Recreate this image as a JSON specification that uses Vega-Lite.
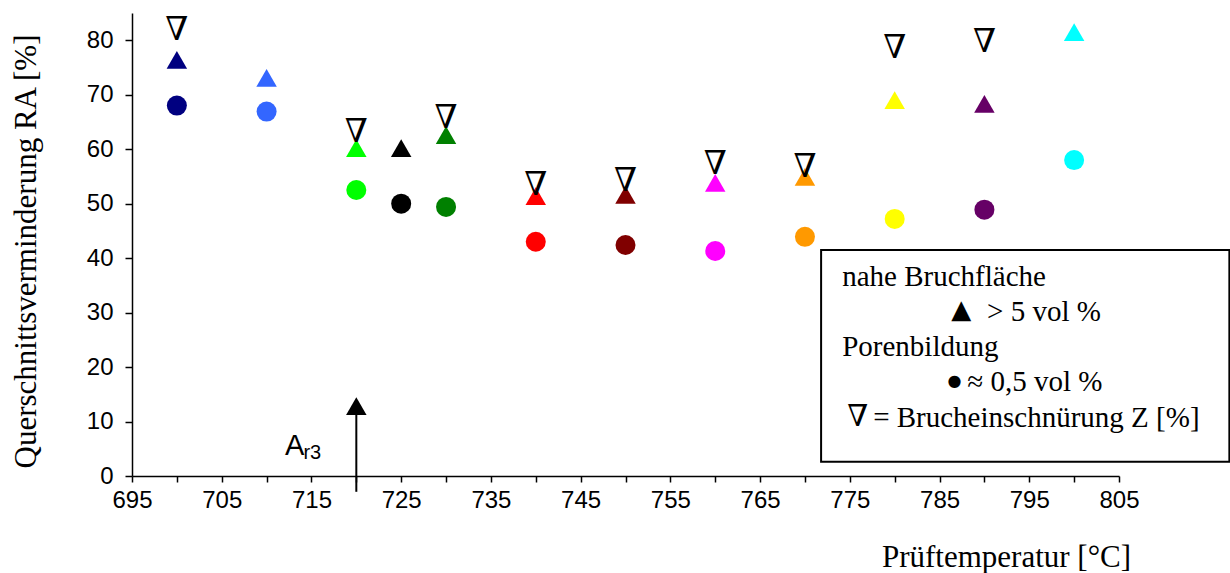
{
  "$schema": "https://vega.github.io/schema/vega-lite/v6.json",
  "width": 987,
  "height": 463,
  "autosize": {"type": "none"},
  "padding": {"left": 132, "top": 13, "right": 111, "bottom": 97},
  "background": "white",
  "config": {"view": {"stroke": null}},
  "datasets": {
    "pts": [
      {"T": 700, "probe": "700", "RA": 76.4, "Por": 68.0, "Z": 81.9},
      {"T": 710, "probe": "710", "RA": 73.1, "Por": 66.9, "Z": null},
      {"T": 720, "probe": "720", "RA": 60.2, "Por": 52.5, "Z": 63.2},
      {"T": 725, "probe": "725", "RA": 60.2, "Por": 50.0, "Z": null},
      {"T": 730, "probe": "730", "RA": 62.6, "Por": 49.4, "Z": 65.7},
      {"T": 740, "probe": "740", "RA": 51.4, "Por": 43.0, "Z": 53.4},
      {"T": 750, "probe": "750", "RA": 51.6, "Por": 42.4, "Z": 54.2},
      {"T": 760, "probe": "760", "RA": 53.8, "Por": 41.3, "Z": 57.3},
      {"T": 770, "probe": "770", "RA": 54.9, "Por": 43.9, "Z": 56.7},
      {"T": 780, "probe": "780", "RA": 69.0, "Por": 47.2, "Z": 78.6},
      {"T": 790, "probe": "790", "RA": 68.3, "Por": 48.9, "Z": 79.7},
      {"T": 800, "probe": "800", "RA": 81.5, "Por": 58.0, "Z": null}
    ],
    "arrow": [{"T": 720, "y1": -2.9, "y2": 12.85}],
    "box": [{"x1": 771.8, "x2": 817.3, "y1": 41.5, "y2": 2.6}],
    "legtext": [
      {"T": 774.15, "v": 36.5, "txt": "nahe Bruchfläche"},
      {"T": 790.3, "v": 30.1, "txt": "> 5 vol %"},
      {"T": 774.15, "v": 23.7, "txt": "Porenbildung"},
      {"T": 788.1, "v": 17.3, "txt": "≈ 0,5 vol %"},
      {"T": 777.6, "v": 10.65, "txt": "= Brucheinschnürung Z [%]"}
    ],
    "legsym": [
      {"T": 786.3, "v": 30.4, "txt": "▲"}
    ],
    "legdot": [
      {"T": 785.9, "v": 17.4, "txt": "●"}
    ],
    "legnabla": [
      {"T": 774.7, "v": 10.8, "txt": "∇"}
    ],
    "ar3A": [{"T": 712.06, "v": 3.9, "txt": "A"}],
    "ar3sub": [{"T": 714.1, "v": 3.1, "txt": "r3"}]
  },
  "layer": [
    {
      "data": {"name": "pts"},
      "mark": {"type": "point", "shape": "triangle-up", "filled": true, "size": 420, "opacity": 1},
      "encoding": {
        "x": {"field": "T", "type": "quantitative",
          "scale": {"domain": [695, 805], "nice": false, "zero": false},
          "axis": {
            "values": [695,700,705,710,715,720,725,730,735,740,745,750,755,760,765,770,775,780,785,790,795,800,805],
            "labelExpr": "(datum.value - 695) % 10 == 0 ? datum.label : ''",
            "format": "d",
            "title": "Prüftemperatur [°C]",
            "titleFont": "Liberation Serif", "titleFontSize": 31, "titleFontWeight": "normal", "titleColor": "black",
            "titleX": 874, "titleY": 81, "titleAlign": "center", "titleBaseline": "middle",
            "labelFont": "Liberation Sans", "labelFontSize": 24, "labelColor": "black", "labelPadding": 6,
            "labelFlush": false, "labelOverlap": false,
            "domainColor": "black", "domainWidth": 1.5, "tickColor": "black", "tickWidth": 1.5, "tickSize": 6,
            "grid": false
          }
        },
        "y": {"field": "RA", "type": "quantitative",
          "scale": {"domain": [0, 85], "nice": false},
          "axis": {
            "values": [0,10,20,30,40,50,60,70,80],
            "title": "Querschnittsverminderung RA [%]",
            "titleFont": "Liberation Serif", "titleFontSize": 31, "titleFontWeight": "normal", "titleColor": "black",
            "titleX": -106, "titleY": 238, "titleAlign": "center", "titleBaseline": "middle", "titleAngle": -90,
            "labelFont": "Liberation Sans", "labelFontSize": 24, "labelColor": "black", "labelPadding": 12,
            "labelFlush": false, "labelOverlap": false,
            "domainColor": "black", "domainWidth": 1.5, "tickColor": "black", "tickWidth": 1.5, "tickSize": 7,
            "grid": false
          }
        },
        "color": {"field": "probe", "type": "nominal",
          "scale": {"domain": ["700","710","720","725","730","740","750","760","770","780","790","800"],
            "range": ["#000080","#3366FF","#00FF00","#000000","#008000","#FF0000","#800000","#FF00FF","#FF9900","#FFFF00","#660066","#00FFFF"]},
          "legend": null}
      }
    },
    {
      "data": {"name": "pts"},
      "mark": {"type": "point", "shape": "circle", "filled": true, "size": 400, "opacity": 1},
      "encoding": {
        "x": {"field": "T", "type": "quantitative"},
        "y": {"field": "Por", "type": "quantitative"},
        "color": {"field": "probe", "type": "nominal"}
      }
    },
    {
      "data": {"name": "pts"},
      "transform": [{"filter": "datum.Z != null"}],
      "mark": {"type": "text", "text": "∇", "font": "DejaVu Serif", "fontSize": 33, "color": "black", "align": "center", "baseline": "middle"},
      "encoding": {
        "x": {"field": "T", "type": "quantitative"},
        "y": {"field": "Z", "type": "quantitative"}
      }
    },
    {
      "data": {"name": "arrow"},
      "mark": {"type": "rule", "color": "black", "strokeWidth": 2},
      "encoding": {
        "x": {"field": "T", "type": "quantitative"},
        "y": {"field": "y1", "type": "quantitative"},
        "y2": {"field": "y2"}
      }
    },
    {
      "data": {"name": "arrow"},
      "mark": {"type": "point", "shape": "triangle-up", "filled": true, "size": 420, "color": "black", "opacity": 1},
      "encoding": {
        "x": {"field": "T", "type": "quantitative"},
        "y": {"field": "y2", "type": "quantitative"}
      }
    },
    {
      "data": {"name": "ar3A"},
      "mark": {"type": "text", "font": "Liberation Sans", "fontSize": 29, "color": "black", "align": "left", "baseline": "alphabetic"},
      "encoding": {
        "x": {"field": "T", "type": "quantitative"},
        "y": {"field": "v", "type": "quantitative"},
        "text": {"field": "txt"}
      }
    },
    {
      "data": {"name": "ar3sub"},
      "mark": {"type": "text", "font": "Liberation Sans", "fontSize": 20, "color": "black", "align": "left", "baseline": "alphabetic"},
      "encoding": {
        "x": {"field": "T", "type": "quantitative"},
        "y": {"field": "v", "type": "quantitative"},
        "text": {"field": "txt"}
      }
    },
    {
      "data": {"name": "box"},
      "mark": {"type": "rect", "fill": "white", "stroke": "black", "strokeWidth": 2},
      "encoding": {
        "x": {"field": "x1", "type": "quantitative"},
        "x2": {"field": "x2"},
        "y": {"field": "y1", "type": "quantitative"},
        "y2": {"field": "y2"}
      }
    },
    {
      "data": {"name": "legtext"},
      "mark": {"type": "text", "font": "Liberation Serif", "fontSize": 29, "color": "black", "align": "left", "baseline": "middle"},
      "encoding": {
        "x": {"field": "T", "type": "quantitative"},
        "y": {"field": "v", "type": "quantitative"},
        "text": {"field": "txt"}
      }
    },
    {
      "data": {"name": "legsym"},
      "mark": {"type": "text", "font": "DejaVu Sans", "fontSize": 26, "color": "black", "align": "left", "baseline": "middle"},
      "encoding": {
        "x": {"field": "T", "type": "quantitative"},
        "y": {"field": "v", "type": "quantitative"},
        "text": {"field": "txt"}
      }
    },
    {
      "data": {"name": "legdot"},
      "mark": {"type": "text", "font": "DejaVu Sans", "fontSize": 16, "color": "black", "align": "left", "baseline": "middle"},
      "encoding": {
        "x": {"field": "T", "type": "quantitative"},
        "y": {"field": "v", "type": "quantitative"},
        "text": {"field": "txt"}
      }
    },
    {
      "data": {"name": "legnabla"},
      "mark": {"type": "text", "font": "DejaVu Serif", "fontSize": 30, "color": "black", "align": "left", "baseline": "middle"},
      "encoding": {
        "x": {"field": "T", "type": "quantitative"},
        "y": {"field": "v", "type": "quantitative"},
        "text": {"field": "txt"}
      }
    }
  ]
}
